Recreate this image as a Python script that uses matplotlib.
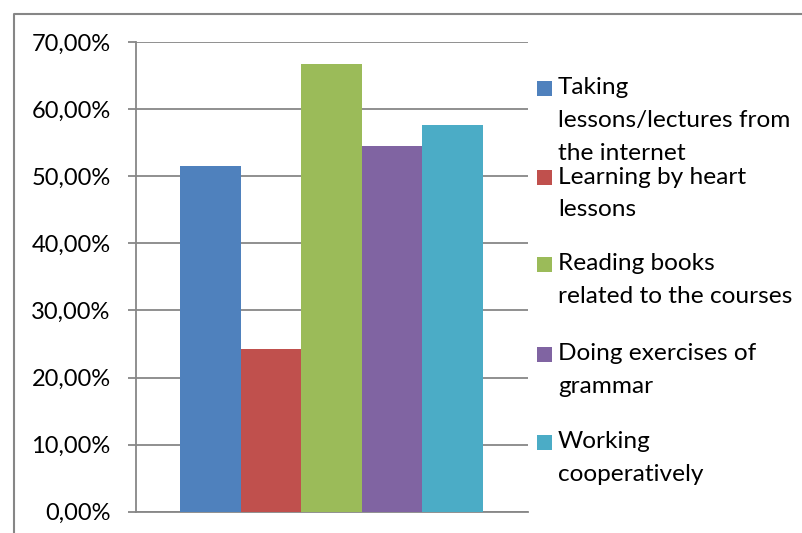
import matplotlib
matplotlib.use("Agg")
import matplotlib.pyplot as plt
from matplotlib.patches import Rectangle
from matplotlib.lines import Line2D
from matplotlib.ticker import FuncFormatter

# survey shares (fractions)
labels = [
    "Taking\nlessons/lectures from\nthe internet",
    "Learning by heart\nlessons",
    "Reading books\nrelated to the courses",
    "Doing exercises of\ngrammar",
    "Working\ncooperatively",
]
values = [0.5152, 0.2424, 0.6667, 0.5455, 0.5758]
colors = ["#4F81BD", "#C0504D", "#9BBB59", "#8064A2", "#4BACC6"]
yticks = [0.0, 0.1, 0.2, 0.3, 0.4, 0.5, 0.6, 0.7]

plt.rcParams['font.family'] = ['Lato', 'DejaVu Sans']

W, H = 802, 533
fig = plt.figure(figsize=(W / 100, H / 100), dpi=100)
ax = fig.add_axes([135.7 / W, 21.3 / H, 391.8 / W, 469.7 / H])

xs = list(range(len(values)))
ax.bar(xs, values, width=1.0, color=colors, zorder=3)
ax.set_xlim(-1.233, 5.233)
ax.set_ylim(0, 0.7)

grid_col = "#878787"
ax.set_yticks(yticks)
ax.yaxis.set_major_formatter(FuncFormatter(lambda v, p: ("%.2f%%" % (v * 100)).replace(".", ",")))
ax.yaxis.grid(True, color=grid_col, linewidth=1.3, zorder=0)
ax.tick_params(axis='y', direction='out', length=6, width=1.3, color=grid_col,
               pad=12, labelsize=17, labelcolor="#000000")
ax.set_xticks([])
for s in ["top", "right"]:
    ax.spines[s].set_visible(False)
for s in ["left", "bottom"]:
    ax.spines[s].set_color(grid_col)
    ax.spines[s].set_linewidth(1.3)

# legend drawn by hand, Excel-style spacing
first_y = [88, 177, 264, 354, 442]
line_h = 32.5
for lab, col, y0 in zip(labels, colors, first_y):
    fig.patches.append(Rectangle((537 / W, 1 - (y0 + 7.5) / H), 15 / W, 15 / H,
                                 transform=fig.transFigure, facecolor=col,
                                 edgecolor="none"))
    for k, line in enumerate(lab.split("\n")):
        fig.text(558 / W, 1 - (y0 + k * line_h) / H, line, fontsize=17.6,
                 va="center", ha="left", color="#000000")

# outer chart frame
fig.lines.append(Line2D([13.5 / W, 13.5 / W, 1.0], [0.0, 1 - 13.5 / H, 1 - 13.5 / H],
                        transform=fig.transFigure, color="#868686", linewidth=1.5))

fig.savefig("out.png", dpi=100)
